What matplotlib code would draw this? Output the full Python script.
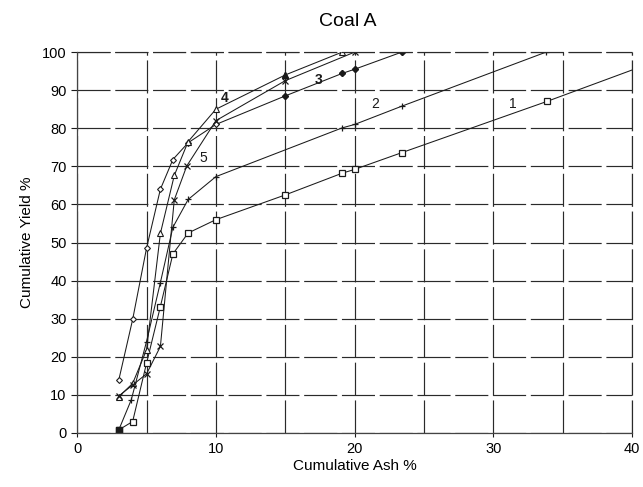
import matplotlib
matplotlib.use("Agg")
import matplotlib.pyplot as plt

plt.rcParams['font.family'] = ['Liberation Sans', 'DejaVu Sans']

# Series data (Cumulative Ash %, Cumulative Yield %)
s1_x = [3.0, 4.0, 5.0, 6.0, 6.9, 8.0, 10.0, 15.0, 19.1, 20.0, 23.4, 33.9, 40.0]
s1_y = [0.8, 3.0, 18.3, 33.2, 47.0, 52.5, 56.0, 62.5, 68.2, 69.2, 73.6, 87.1, 95.3]

s2_x = [3.0, 3.9, 5.0, 6.0, 6.9, 8.0, 10.0, 19.1, 20.0, 23.4, 33.8]
s2_y = [0.8, 8.7, 24.0, 39.5, 54.0, 61.3, 67.3, 80.1, 81.0, 85.8, 100.0]

s3_x = [3.0, 4.0, 5.0, 6.0, 6.9, 8.0, 10.0, 15.0, 19.1, 20.0, 23.4]
s3_y = [13.9, 29.8, 48.5, 64.0, 71.8, 76.2, 81.0, 88.5, 94.4, 95.5, 100.0]

s4_x = [3.0, 4.0, 5.0, 6.0, 7.0, 8.0, 10.0, 15.0, 19.1]
s4_y = [9.5, 13.0, 21.8, 52.4, 67.6, 76.5, 85.0, 94.0, 100.0]

s5_x = [3.0, 4.0, 5.0, 6.0, 7.0, 7.9, 10.0, 15.0, 20.0]
s5_y = [9.7, 12.6, 15.5, 22.7, 61.2, 70.1, 82.0, 92.5, 100.0]

labels = ['1', '2', '3', '4', '5']
label_pos_x = [31.4, 21.5, 17.4, 10.6, 9.1]
label_pos_y = [86.4, 86.4, 92.8, 88.0, 72.1]
label_weight = ['normal', 'normal', 'bold', 'bold', 'normal']

x_ticks = [0, 10, 20, 30, 40]
y_ticks = [0, 10, 20, 30, 40, 50, 60, 70, 80, 90, 100]

fig = plt.figure(figsize=(6.43, 4.87), dpi=100)
ax = fig.add_axes([0.120, 0.111, 0.863, 0.782])

lc = '#1a1a1a'
gc = '#2a2a2a'
gls = (0, (28, 4))
lw = 0.75
ax.plot(s1_x, s1_y, color=lc, lw=lw, marker='s', ms=4.2, mfc='white', mec=lc, mew=0.9,
        markevery=list(range(len(s1_x) - 1)))
ax.plot(s2_x, s2_y, color=lc, lw=lw, marker='+', ms=5, mew=0.9)
ax.plot(s3_x, s3_y, color=lc, lw=lw, marker='D', ms=3.0, mfc='white', mec=lc, mew=0.8)
ax.plot(s3_x[7:], s3_y[7:], color=lc, ls='none', marker='D', ms=3.0)
ax.plot(s4_x, s4_y, color=lc, lw=lw, marker='^', ms=4.0, mfc='white', mec=lc, mew=0.8)
ax.plot(s4_x[7:8], s4_y[7:8], color=lc, ls='none', marker='^', ms=4.5)
ax.plot(s5_x, s5_y, color=lc, lw=lw, marker='x', ms=4.5, mew=0.9)
ax.plot([s1_x[0]], [s1_y[0]], marker='s', ms=5, color=lc, ls='none')

for t, xx, yy, fw in zip(labels, label_pos_x, label_pos_y, label_weight):
    ax.text(xx, yy, t, fontsize=10, fontweight=fw, ha='center', va='center', color=lc)

ax.set_xlim(0, 40)
ax.set_ylim(0, 100)
ax.set_xticks(x_ticks)
ax.set_xticks([5, 15, 25, 35], minor=True)
ax.set_yticks(y_ticks)
ax.tick_params(axis='both', which='major', labelsize=10.5, length=4, width=0.8,
               direction='out', color=lc)
ax.tick_params(axis='x', which='major', length=3)
ax.tick_params(axis='x', which='minor', length=0)

ax.grid(True, which='both', color=gc, linestyle=gls, linewidth=0.85)
for side in ['top', 'right']:
    ax.spines[side].set_visible(False)
for side in ['left', 'bottom']:
    ax.spines[side].set_linewidth(0.9)
    ax.spines[side].set_color('#444444')
ax.axvline(40, color=gc, linestyle=gls, linewidth=0.85, clip_on=False)
ax.axhline(100, color=gc, linestyle=gls, linewidth=0.85, clip_on=False)

ax.set_xlabel('Cumulative Ash %', fontsize=11, labelpad=2)
ax.set_ylabel('Cumulative Yield %', fontsize=11, labelpad=6)
fig.text(0.541, 0.955, 'Coal A', fontsize=14, ha='center', va='center')

fig.savefig('out.png', dpi=100)
